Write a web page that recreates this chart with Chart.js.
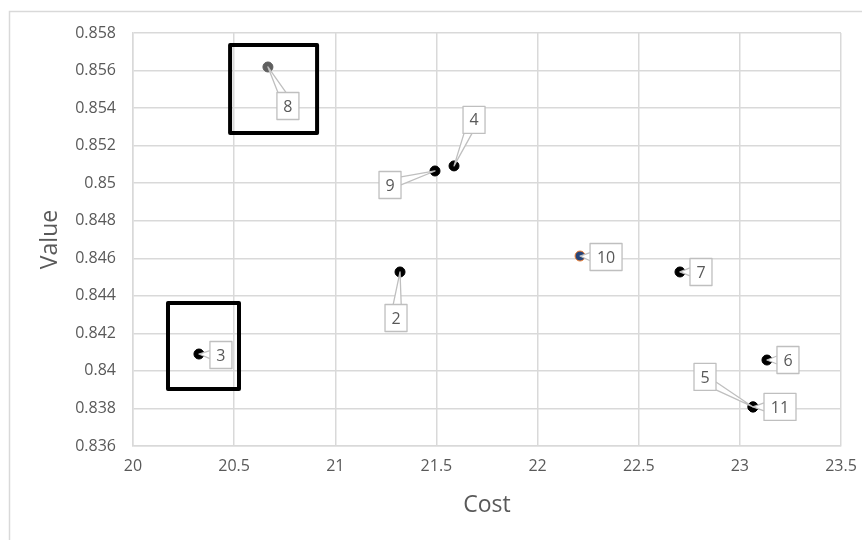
<!DOCTYPE html>
<html>
<head>
<meta charset="utf-8">
<script src="https://cdn.jsdelivr.net/npm/chart.js@4/dist/chart.umd.min.js"></script>
<style>
html,body{margin:0;padding:0;background:#fff;}
#wrap{position:relative;width:862px;height:540px;}
</style>
</head>
<body>
<div id="wrap"><canvas id="c" width="862" height="540"></canvas></div>
<script>
// ---- data ----
const pointIds = ["2","3","4","5","6","7","8","9","10","11"];
const costs    = [21.320, 20.326, 21.587, 23.065, 23.134, 22.704, 20.667, 21.493, 22.210, 23.065];
const values   = [0.84527, 0.84090, 0.85092, 0.83808, 0.84058, 0.84527, 0.85619, 0.85065, 0.84612, 0.83808];
const xTicks   = [20, 20.5, 21, 21.5, 22, 22.5, 23, 23.5];
const yTicks   = [0.836, 0.838, 0.84, 0.842, 0.844, 0.846, 0.848, 0.85, 0.852, 0.854, 0.856, 0.858];
// highlight boxes (data ranges)
const boxXMin = [20.48, 20.173];
const boxXMax = [20.91, 20.524];
const boxYMin = [0.85267, 0.83904];
const boxYMax = [0.85736, 0.84362];

// ---- styles ----
const pointFill = ["#000","#000","#000","#000","#000","#000","#5f5f5f","#000","#264478","#000"];
const pointEdge = ["#000","#000","#000","#000","#000","#000","#5f5f5f","#000","#ed7d31","#000"];
// callout label offsets (px, from point centre)
const labelDX = [-4, 22, 20, -48, 21, 21, 20, -45, 26, 27];
const labelDY = [46, 1, -46, -30, 0, 0, 39, 14, 1, 0];

const FONT = "'Open Sans', 'Liberation Sans', sans-serif";
const TXT = "#595959";

const pts = costs.map((c,i)=>({x:c,y:values[i]}));

const framePlugin = {
  id:'frame',
  beforeDraw(chart){
    const ctx = chart.ctx;
    ctx.save();
    ctx.fillStyle = '#fff';
    ctx.fillRect(0,0,chart.width,chart.height);
    ctx.strokeStyle = '#d9d9d9';
    ctx.lineWidth = 1.5;
    ctx.beginPath();
    ctx.moveTo(9.5, chart.height);
    ctx.lineTo(9.5, 11.5);
    ctx.lineTo(chart.width, 11.5);
    ctx.stroke();
    ctx.restore();
  }
};

const calloutPlugin = {
  id:'callouts',
  afterDatasetsDraw(chart){
    const ctx = chart.ctx;
    const xs = chart.scales.x, ys = chart.scales.y;
    ctx.save();
    // highlight boxes
    ctx.strokeStyle = '#000';
    ctx.lineWidth = 4;
    ctx.lineJoin = 'round';
    for (let i=0;i<boxXMin.length;i++){
      const x1 = xs.getPixelForValue(boxXMin[i]), x2 = xs.getPixelForValue(boxXMax[i]);
      const y1 = ys.getPixelForValue(boxYMax[i]), y2 = ys.getPixelForValue(boxYMin[i]);
      ctx.strokeRect(x1, y1, x2-x1, y2-y1);
    }
    // callouts
    ctx.font = "16px " + FONT;
    ctx.textAlign = 'center';
    ctx.textBaseline = 'middle';
    const meta = chart.getDatasetMeta(0);
    meta.data.forEach((el,i)=>{
      const px = el.x, py = el.y;
      const t = pointIds[i];
      const w = t.length>1 ? 32 : 22, h = 27;
      const cx = px + labelDX[i], cy = py + labelDY[i];
      const bx = cx - w/2, by = cy - h/2;
      let b1, b2;
      const dx = px - cx, dy = py - cy;
      if (Math.abs(dx)/w > Math.abs(dy)/h){
        const ex = dx>0 ? bx+w : bx;
        const yy = Math.max(by+4, Math.min(by+h-4, cy + dy*0.3));
        b1 = [ex, yy-4]; b2 = [ex, yy+4];
      } else {
        const ey = dy>0 ? by+h : by;
        const xx = Math.max(bx+4, Math.min(bx+w-4, cx + dx*0.3));
        b1 = [xx-4, ey]; b2 = [xx+4, ey];
      }
      ctx.fillStyle = '#fff';
      ctx.strokeStyle = '#bfbfbf';
      ctx.lineWidth = 1.3;
      ctx.beginPath();
      ctx.moveTo(b1[0],b1[1]); ctx.lineTo(px,py); ctx.lineTo(b2[0],b2[1]); ctx.closePath();
      ctx.fill();
      ctx.beginPath();
      ctx.moveTo(b1[0],b1[1]); ctx.lineTo(px,py); ctx.lineTo(b2[0],b2[1]);
      ctx.stroke();
      ctx.fillRect(bx,by,w,h);
      ctx.strokeRect(bx,by,w,h);
      ctx.fillStyle = TXT;
      ctx.fillText(t, cx, cy+1);
    });
    ctx.restore();
  }
};

new Chart(document.getElementById('c'), {
  type:'scatter',
  data:{
    datasets:[{
      data: pts,
      pointRadius: 5,
      pointHoverRadius: 5,
      pointBackgroundColor: pointFill,
      pointBorderColor: pointEdge,
      pointBorderWidth: 1
    }]
  },
  options:{
    responsive:false,
    animation:false,
    layout:{padding:{top:33,right:21,left:0,bottom:0}},
    plugins:{legend:{display:false},tooltip:{enabled:false}},
    scales:{
      x:{
        type:'linear', min:20, max:23.5,
        afterBuildTicks(s){ s.ticks = xTicks.map(v=>({value:v})); },
        afterFit(s){ s.height = 94; s.paddingRight = 0; s.paddingLeft = 0; },
        grid:{color:'#d9d9d9', lineWidth:1.5, drawTicks:false},
        border:{color:'#d9d9d9', width:1.5},
        ticks:{color:TXT, font:{family:FONT,size:16}, padding:11, maxRotation:0,
               callback:(v)=>String(+v.toFixed(2))},
        title:{display:true, text:'Cost', color:TXT, font:{family:FONT,size:23}, padding:{top:4,bottom:21}}
      },
      y:{
        type:'linear', min:0.836, max:0.858,
        afterBuildTicks(s){ s.ticks = yTicks.map(v=>({value:v})); },
        afterFit(s){ s.width = 133; s.paddingTop = 0; s.paddingBottom = 0; },
        grid:{color:'#d9d9d9', lineWidth:1.5, drawTicks:false},
        border:{color:'#d9d9d9', width:1.5},
        ticks:{color:TXT, font:{family:FONT,size:16}, padding:17,
               callback:(v)=>String(+v.toFixed(3))},
        title:{display:true, text:'Value', color:TXT, font:{family:FONT,size:23}, padding:{top:37,bottom:4}}
      }
    }
  },
  plugins:[framePlugin, calloutPlugin]
});
</script>
</body>
</html>
